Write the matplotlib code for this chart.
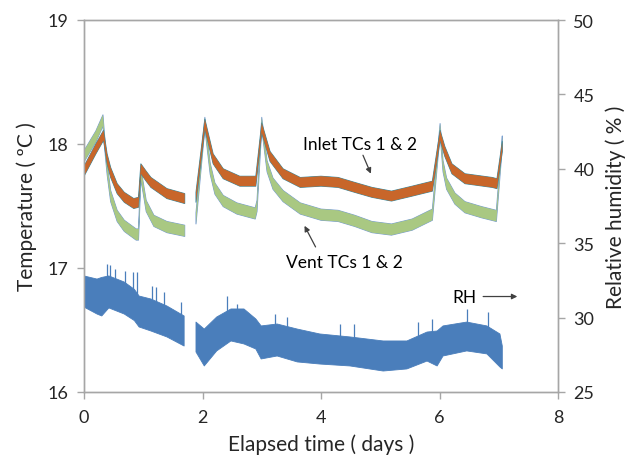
import numpy as np
import matplotlib.pyplot as plt

# ---- data (days, degC, %RH) ----
# NaN marks the logging gap around day 1.8
inlet_t = [0.00, 0.10, 0.20, 0.33, 0.39, 0.45, 0.56, 0.68, 0.84, 0.92,
           0.96, 1.05, 1.13, 1.40, 1.70, np.nan,
           1.89, 2.04, 2.18, 2.35, 2.63, 2.90, 3.00, 3.14, 3.36, 3.65,
           4.00, 4.29, 4.57, 4.86, 5.19, 5.54, 5.88, 6.01, 6.09, 6.21,
           6.43, 6.89, 6.97, 7.06]
inlet_mid = [17.78, 17.87, 17.96, 18.07, 17.88, 17.77, 17.64, 17.57, 17.52, 17.53,
             17.80, 17.74, 17.69, 17.60, 17.56, np.nan,
             17.57, 18.16, 17.88, 17.76, 17.70, 17.70, 18.13, 17.90, 17.76, 17.69,
             17.70, 17.69, 17.65, 17.61, 17.58, 17.62, 17.66, 18.07, 17.94, 17.80,
             17.72, 17.69, 17.68, 17.98]

vent_t = [0.00, 0.10, 0.20, 0.32, 0.36, 0.39, 0.45, 0.56, 0.68, 0.88, 0.92,
          0.96, 1.05, 1.18, 1.40, 1.70, np.nan,
          1.89, 2.04, 2.13, 2.21, 2.35, 2.58, 2.89, 2.92, 3.00, 3.09, 3.19,
          3.36, 3.65, 4.00, 4.29, 4.57, 4.86, 5.19, 5.54, 5.88, 6.01, 6.06,
          6.12, 6.26, 6.43, 6.71, 6.96, 7.06]
vent_mid = [17.90, 17.98, 18.06, 18.19, 17.95, 17.80, 17.58, 17.42, 17.34, 17.27, 17.27,
            17.76, 17.50, 17.38, 17.33, 17.30, np.nan,
            17.40, 18.17, 17.80, 17.64, 17.54, 17.48, 17.44, 17.50, 18.17, 17.82, 17.68,
            17.58, 17.48, 17.43, 17.42, 17.38, 17.33, 17.31, 17.35, 17.43, 18.12, 17.82,
            17.68, 17.56, 17.49, 17.45, 17.42, 18.02]

INLET_SPREAD = 0.04   # half-width of the sensor noise band (degC)
VENT_SPREAD = 0.045

rh_t = [0.00, 0.22, 0.30, 0.42, 0.68, 0.85, 0.93, 1.13, 1.40, 1.69, np.nan,
        1.89, 2.03, 2.24, 2.48, 2.70, 2.90, 2.99, 3.26, 3.60, 3.98, 4.49,
        5.05, 5.45, 5.79, 5.96, 6.06, 6.46, 6.80, 7.02, 7.06]
rh_hi = [32.80, 32.59, 32.70, 32.80, 32.39, 31.90, 31.45, 31.25, 30.78, 30.11, np.nan,
         29.70, 29.23, 30.04, 30.58, 30.58, 29.91, 29.44, 29.57, 29.23, 28.90, 28.70,
         28.43, 28.43, 29.03, 29.10, 29.44, 29.70, 29.44, 28.90, 28.09]
rh_lo = [30.71, 30.24, 30.11, 30.65, 30.24, 29.80, 29.37, 29.10, 28.70, 28.09, np.nan,
         27.69, 26.75, 27.76, 28.43, 28.23, 27.89, 27.22, 27.42, 27.02, 26.88, 26.75,
         26.41, 26.55, 27.08, 26.75, 27.42, 27.76, 27.56, 26.68, 26.55]

rh_spike_t = [0.39, 0.44, 0.53, 0.70, 0.82, 0.90, 1.15, 1.21, 1.35, 1.63,
              2.42, 2.59, 3.23, 3.43, 4.32, 4.55, 5.64, 5.87, 6.46, 6.82]
rh_spike_top = [33.60, 33.53, 33.27, 33.15, 33.09, 33.04, 32.14, 32.05, 31.72, 31.05,
                31.47, 30.91, 30.24, 30.04, 29.57, 29.57, 29.70, 29.91, 30.58, 30.38]

# ---- colours ----
ORANGE = '#c8662a'
TEAL = '#3b8ea5'
GREEN = '#a9c882'
BLUE_UNDER = '#7a9fd4'
RH_BLUE = '#4a7ebb'
SPINE = '#a6a6a6'
TXT = '#262626'

plt.rcParams['font.family'] = ['Lato', 'DejaVu Sans']

fig = plt.figure(figsize=(6.33, 4.56), dpi=100)
ax = fig.add_axes([84 / 633, 63 / 456, 474 / 633, 372 / 456])
ax2 = ax.twinx()

inlet_t = np.array(inlet_t)
inlet_mid = np.array(inlet_mid)
vent_t = np.array(vent_t)
vent_mid = np.array(vent_mid)

# relative humidity on the right axis
rh_t_arr = np.array(rh_t)
ax2.fill_between(rh_t_arr, rh_lo, rh_hi, color=RH_BLUE, lw=0.6, edgecolor=RH_BLUE)
ok = ~np.isnan(rh_t_arr)
spike_base = np.interp(rh_spike_t, rh_t_arr[ok], np.array(rh_hi)[ok])
ax2.vlines(rh_spike_t, spike_base - 0.3, rh_spike_top, color=RH_BLUE, lw=0.9)

# vent TCs: blue trace under the green one
ax2.fill_between(vent_t, vent_mid - VENT_SPREAD, vent_mid + VENT_SPREAD,
                 color=BLUE_UNDER, lw=0.7, edgecolor=BLUE_UNDER,
                 transform=ax.transData)
ax2.fill_between(vent_t, vent_mid - VENT_SPREAD, vent_mid + VENT_SPREAD,
                 color=GREEN, lw=0, transform=ax.transData)
# inlet TCs: teal trace under the orange one
ax2.fill_between(inlet_t, inlet_mid - INLET_SPREAD, inlet_mid + INLET_SPREAD,
                 color=TEAL, lw=0.7, edgecolor=TEAL, transform=ax.transData)
ax2.fill_between(inlet_t, inlet_mid - INLET_SPREAD, inlet_mid + INLET_SPREAD,
                 color=ORANGE, lw=0, transform=ax.transData)

ax.set_xlim(0, 8)
ax.set_ylim(16, 19)
ax2.set_ylim(25, 50)
ax.set_xticks([0, 2, 4, 6, 8])
ax.set_yticks([16, 17, 18, 19])
ax2.set_yticks([25, 30, 35, 40, 45, 50])

for a in (ax, ax2):
    for s in a.spines.values():
        s.set_color(SPINE)
        s.set_linewidth(1.0)
    a.tick_params(colors=SPINE, labelcolor=TXT, labelsize=13, length=5,
                  width=1.0)
ax.tick_params(axis='y', pad=6)
ax.tick_params(axis='x', pad=7)
ax2.tick_params(axis='y', pad=6)

ax.set_xlabel('Elapsed time ( days )', fontsize=15, color=TXT, labelpad=6)
ax.set_ylabel('Temperature ( ºC )', fontsize=15, color=TXT, labelpad=8)
ax2.set_ylabel('Relative humidity ( % )', fontsize=15, color=TXT, labelpad=8)

# annotations
ax.annotate('', xy=(4.86, 17.74), xytext=(4.69, 17.93),
            arrowprops=dict(arrowstyle='-|>', color='#404040', lw=0.9,
                            mutation_scale=8))
ax.text(4.66, 18.00, 'Inlet TCs 1 & 2', fontsize=12.5, color='black',
        ha='center', va='center')
ax.annotate('', xy=(3.70, 17.36), xytext=(3.93, 17.15),
            arrowprops=dict(arrowstyle='-|>', color='#404040', lw=0.9,
                            mutation_scale=8))
ax.text(4.40, 17.05, 'Vent TCs 1 & 2', fontsize=12.5, color='black',
        ha='center', va='center')
ax.annotate('', xy=(7.36, 16.77), xytext=(6.69, 16.77),
            arrowprops=dict(arrowstyle='-|>', color='#404040', lw=0.9,
                            mutation_scale=8))
ax.text(6.42, 16.77, 'RH', fontsize=12.5, color='black',
        ha='center', va='center')

fig.savefig('out.png', dpi=100)
